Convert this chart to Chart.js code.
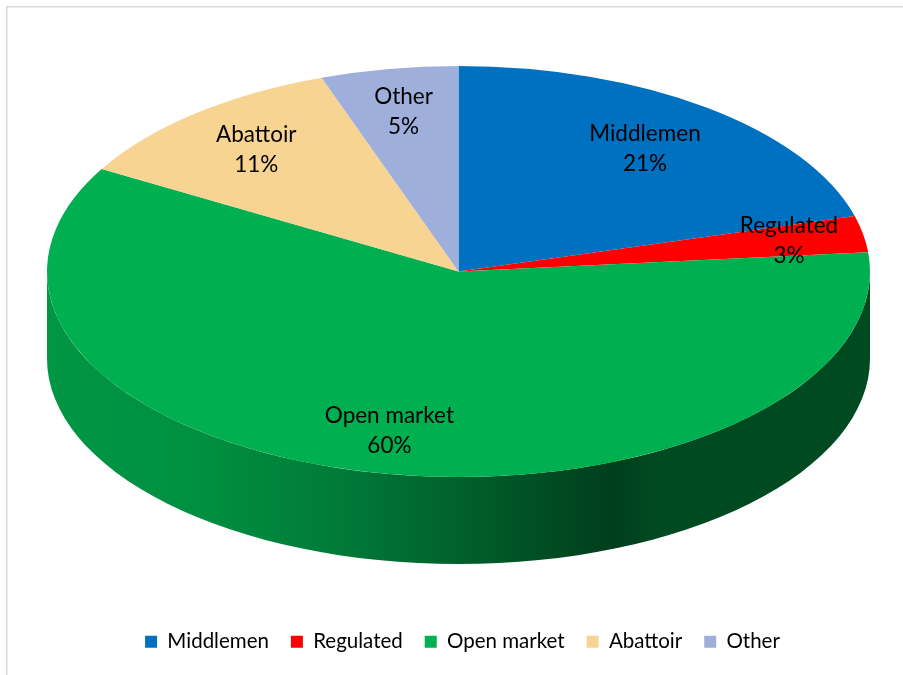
<!DOCTYPE html>
<html>
<head>
<meta charset="utf-8">
<script src="https://cdn.jsdelivr.net/npm/chart.js@4.4.1/dist/chart.umd.min.js"></script>
<style>
  html, body { margin: 0; padding: 0; background: #fff; }
  #wrap { width: 903px; height: 675px; position: relative; }
</style>
</head>
<body>
<div id="wrap"><canvas id="c" width="903" height="675"></canvas></div>
<script>
// ---- data ----
const categories = ['Middlemen', 'Regulated', 'Open market', 'Abattoir', 'Other'];
const shares = [20.65, 2.85, 59.8, 11.3, 5.4];
const percentLabels = ['21%', '3%', '60%', '11%', '5%'];
const sliceColors = ['#0070C0', '#FF0000', '#00B050', '#F8D493', '#9FAFDC'];

// ---- layout / style constants ----
const CX = 458.5, CY = 271.5, RX = 411.5, RY = 205.5, DEPTH = 87;
const labelRadius = [0.75, 0.817, 0.792, 0.768, 0.791];
const sideShade = [[0, 0.85], [0.19, 0.81], [0.35, 0.70], [0.5, 0.55], [0.62, 0.42], [0.69, 0.35], [0.74, 0.42], [1, 0.42]];

function hexRgb(h) {
  const n = parseInt(h.slice(1), 16);
  return [(n >> 16) & 255, (n >> 8) & 255, n & 255];
}
function shade(h, f) {
  const [r, g, b] = hexRgb(h);
  return `rgb(${Math.round(r * f)},${Math.round(g * f)},${Math.round(b * f)})`;
}

const pie3d = {
  id: 'pie3d',
  beforeDraw(chart) {
    const ctx = chart.ctx;
    ctx.save();
    ctx.strokeStyle = '#D9D9D9';
    ctx.lineWidth = 1.5;
    ctx.strokeRect(6.75, 6.75, 1200, 1200);
    ctx.restore();
  },
  beforeDatasetsDraw(chart) {
    const ctx = chart.ctx;
    const meta = chart.getDatasetMeta(0);
    // side wall of the front half
    ctx.save();
    meta.data.forEach((arc, i) => {
      const { startAngle, endAngle } = arc.getProps(['startAngle', 'endAngle'], true);
      const g = ctx.createLinearGradient(CX - RX, 0, CX + RX, 0);
      sideShade.forEach(([t, f]) => g.addColorStop(t, shade(sliceColors[i], f)));
      for (const k of [-1, 0, 1]) {
        const s = Math.max(startAngle + 2 * Math.PI * k, 0);
        const e = Math.min(endAngle + 2 * Math.PI * k, Math.PI);
        if (e > s) {
          ctx.beginPath();
          ctx.ellipse(CX, CY, RX, RY, 0, s, e, false);
          ctx.ellipse(CX, CY + DEPTH, RX, RY, 0, e, s, true);
          ctx.closePath();
          ctx.fillStyle = g;
          ctx.fill();
        }
      }
    });
    ctx.restore();
    // tilt the top face
    const a = meta.data[0];
    ctx.save();
    ctx.translate(CX, CY);
    ctx.scale(RX / a.outerRadius, RY / a.outerRadius);
    ctx.translate(-a.x, -a.y);
  },
  afterDatasetsDraw(chart) {
    const ctx = chart.ctx;
    ctx.restore();
    const meta = chart.getDatasetMeta(0);
    ctx.save();
    ctx.font = '22.5px Lato';
    ctx.fillStyle = '#000';
    ctx.textAlign = 'center';
    ctx.textBaseline = 'middle';
    meta.data.forEach((arc, i) => {
      const { startAngle, endAngle } = arc.getProps(['startAngle', 'endAngle'], true);
      const m = (startAngle + endAngle) / 2;
      const x = CX + RX * labelRadius[i] * Math.cos(m);
      const y = CY + RY * labelRadius[i] * Math.sin(m);
      ctx.fillText(categories[i], x, y - 15);
      ctx.fillText(percentLabels[i], x, y + 15);
    });
    ctx.restore();
  }
};

new Chart(document.getElementById('c'), {
  type: 'pie',
  data: {
    labels: categories,
    datasets: [{
      data: shares,
      backgroundColor: sliceColors,
      borderWidth: 0,
      clip: false
    }]
  },
  options: {
    responsive: false,
    animation: false,
    layout: { padding: { bottom: 13, top: 20, left: 31, right: 9 } },
    plugins: {
      tooltip: { enabled: false },
      legend: {
        position: 'bottom',
        labels: {
          boxWidth: 12,
          boxHeight: 12,
          padding: 22,
          color: '#000',
          font: { family: 'Lato', size: 20.5 }
        }
      }
    }
  },
  plugins: [pie3d]
});
</script>
</body>
</html>
